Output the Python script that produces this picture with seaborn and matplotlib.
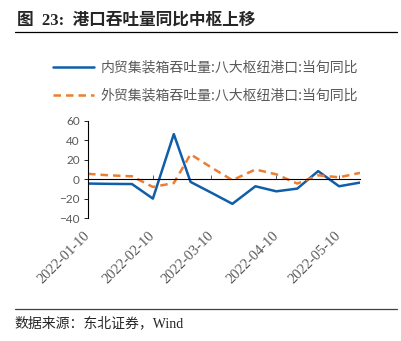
import matplotlib
matplotlib.use("Agg")
import matplotlib.pyplot as plt
import matplotlib.dates as mdates
import matplotlib.lines as mlines
import seaborn as sns
import pandas as pd

sns.set_theme(style="white")
plt.rcParams["font.family"] = ["Noto Sans CJK SC", "DejaVu Sans"]

# Ten-day (dekad) container throughput, year-on-year %
dates = ["2022-01-10", "2022-01-20", "2022-01-31", "2022-02-10", "2022-02-20",
         "2022-02-28", "2022-03-10", "2022-03-20", "2022-03-31", "2022-04-10",
         "2022-04-20", "2022-04-30", "2022-05-10", "2022-05-20"]
domestic_yoy = [-4.5, -4.8, -5.0, -20.0, 46.5, -2.8, -14.0, -25.4, -7.3, -12.5,
                -9.7, 8.3, -7.3, -3.5]
foreign_yoy = [5.5, 4.0, 3.0, -8.0, -4.0, 25.7, 12.0, -1.0, 10.0, 5.0,
               -4.5, 4.0, 2.0, 6.5]
label_domestic = "内贸集装箱吞吐量:八大枢纽港口:当旬同比"
label_foreign = "外贸集装箱吞吐量:八大枢纽港口:当旬同比"
y_ticks = [-40, -20, 0, 20, 40, 60]

df = pd.DataFrame({"date": pd.to_datetime(dates),
                   "domestic": domestic_yoy,
                   "foreign": foreign_yoy})

BLUE = "#0F5EAA"
ORANGE = "#ED7D31"
GRAY = "#595959"

fig = plt.figure(figsize=(4.02, 3.41), dpi=100)
ax = fig.add_axes([0.219, 0.3607, 0.6765, 0.2845])

sns.lineplot(data=df, x="date", y="domestic", ax=ax, color=BLUE,
             linewidth=1.8, legend=False)
sns.lineplot(data=df, x="date", y="foreign", ax=ax, color=ORANGE,
             linewidth=1.8, linestyle=(0, (3, 2)), legend=False)

ax.set_xlim(df["date"].min(), df["date"].max())
ax.set_ylim(-40, 60)
ax.set_yticks(y_ticks)
ax.set_xlabel("")
ax.set_ylabel("")

for s in ["top", "right"]:
    ax.spines[s].set_visible(False)
ax.spines["left"].set_color("black")
ax.spines["left"].set_linewidth(0.8)
ax.spines["bottom"].set_position(("data", 0))
ax.spines["bottom"].set_color("black")
ax.spines["bottom"].set_linewidth(0.8)

ax.xaxis.set_major_locator(mdates.MonthLocator(bymonthday=10))
ax.xaxis.set_major_formatter(mdates.DateFormatter("%Y-%m-%d"))
ax.tick_params(axis="x", direction="in", length=3, width=0.6, color="#404040",
               pad=39, labelsize=10.5, labelcolor=GRAY, bottom=True)
ax.tick_params(axis="y", direction="out", length=3, width=0.6, color="black",
               pad=3, labelsize=8.5, labelcolor=GRAY, left=True)
for lbl in ax.get_xticklabels():
    lbl.set_rotation(45)
    lbl.set_ha("right")
    lbl.set_va("center")
    lbl.set_rotation_mode("anchor")
    lbl.set_fontfamily(["Liberation Serif"])
for lbl in ax.get_yticklabels():
    lbl.set_fontfamily(["Lato"])
ax.grid(False)

# Legend above the plot
h1 = mlines.Line2D([], [], color=BLUE, linewidth=1.8)
h2 = mlines.Line2D([], [], color=ORANGE, linewidth=1.8, linestyle=(0, (3, 2)))
leg = fig.legend([h1, h2], [label_domestic, label_foreign],
                 loc="upper left", bbox_to_anchor=(0.115, 0.843),
                 frameon=False, fontsize=10, handlelength=2.95,
                 handletextpad=0.45, labelspacing=1.0, borderpad=0)
for t in leg.get_texts():
    t.set_color(GRAY)

# Header and footer
fig.text(0.042, 0.941, "图  23:  港口吞吐量同比中枢上移", fontsize=12,
         fontweight="bold", va="center", ha="left",
         family=["Liberation Serif", "Noto Sans CJK SC"])
fig.add_artist(mlines.Line2D([0.037, 0.988], [0.906, 0.906],
                             color="black", linewidth=0.9))
fig.add_artist(mlines.Line2D([0.037, 0.988], [0.093, 0.093],
                             color="#404040", linewidth=0.9))
fig.text(0.037, 0.051, "数据来源：东北证券，Wind", fontsize=10,
         va="center", ha="left", family=["Liberation Serif", "Noto Sans CJK SC"])

fig.savefig("out.png", dpi=100)
